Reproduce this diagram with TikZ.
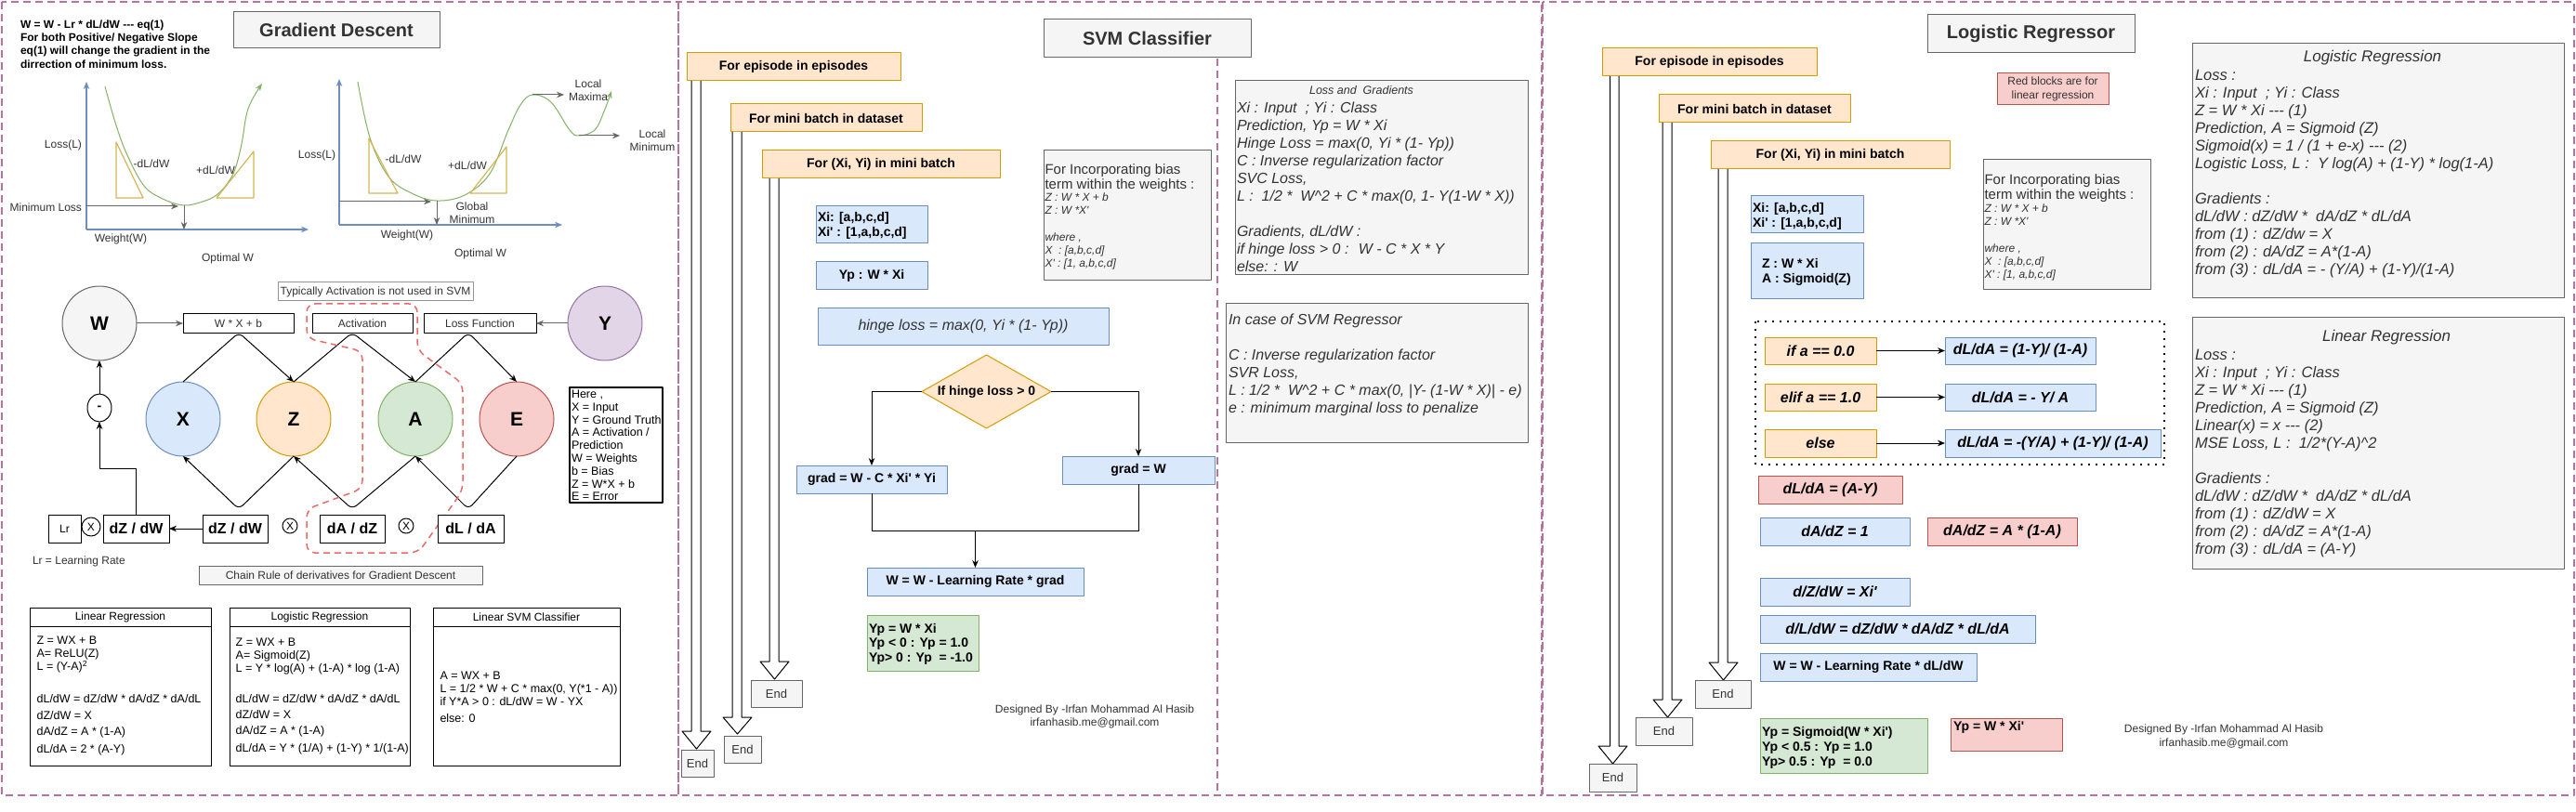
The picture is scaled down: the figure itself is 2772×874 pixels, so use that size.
\documentclass[tikz,border=0pt]{standalone}
\usepackage{fontspec}
\setmainfont{Liberation Sans}[Ligatures=TeXOff]
\usetikzlibrary{arrows.meta,shapes.geometric,calc}
\definecolor{pinkd}{HTML}{B5739D}
\definecolor{redd}{HTML}{EA6B66}
\definecolor{oF}{HTML}{FFE6CC}\definecolor{oS}{HTML}{D79B00}
\definecolor{bF}{HTML}{DAE8FC}\definecolor{bS}{HTML}{6C8EBF}
\definecolor{gF}{HTML}{D5E8D4}\definecolor{gS}{HTML}{82B366}
\definecolor{rF}{HTML}{F8CECC}\definecolor{rS}{HTML}{B85450}
\definecolor{grF}{HTML}{F5F5F5}\definecolor{grS}{HTML}{666666}
\definecolor{pF}{HTML}{E1D5E7}\definecolor{pS}{HTML}{9673A6}
\definecolor{yS}{HTML}{D6B656}
\definecolor{tt}{HTML}{333333}
\newcommand\fs[2]{\fontsize{#1}{#2}\selectfont}
\newcommand\st{\rule{0pt}{0.8em}}
\newcommand\q{\textquotesingle}
\newcommand\bx[6]{\node[#6, minimum width={(#4)-(#2)}, minimum height={(#5)-(#3)}, inner sep=0pt] (#1) at ({((#2)+(#4))/2},{((#3)+(#5))/2})}
\newcommand\blk[7]{\draw[line width=1pt, fill=white] (#1,#3) -- (#1,#4) -- (#5,#4) -- ({((#5)+(#6))/2},#7) -- (#6,#4) -- (#2,#4) -- (#2,#3);}
\begin{document}
\begin{tikzpicture}[x=1pt,y=-1pt, line join=round,
  every node/.style={inner sep=0pt,outer sep=0pt},
  gbox/.style={draw=grS,fill=grF,line width=1pt},
  obox/.style={draw=oS,fill=oF,line width=1pt},
  bbox/.style={draw=bS,fill=bF,line width=1pt},
  gnbox/.style={draw=gS,fill=gF,line width=1pt},
  rbox/.style={draw=rS,fill=rF,line width=1pt},
  wbox/.style={draw=black,fill=white,line width=1pt},
  arr/.style={line width=1pt,-{Stealth[length=8pt,width=6.5pt]}},
  garr/.style={draw=grS,line width=1pt,-{Stealth[length=8pt,width=6.5pt]}},
  axarr/.style={draw=bS,line width=1.2pt,-{Stealth[length=8pt,width=6.5pt]}},
  curve/.style={draw=gS,line width=1pt},
  tri/.style={draw=yS,line width=1.2pt},
  pframe/.style={draw=pinkd,line width=1.3pt,dash pattern=on 8pt off 5pt},
  lbl/.style={text=tt,font=\fs{12}{14}},
  rc/.style={rounded corners=6pt},
  endbox/.style={gbox,text=tt,font=\fs{13}{15}},
  circ/.style={circle,minimum size=80pt,line width=1pt,font=\fs{21}{24}\bfseries}]
\fill[white] (0,0) rectangle (2772,874);
\useasboundingbox (0,0) rectangle (2772,874);
% ---------- frames
\draw[pframe] (2,2) rectangle (730,856);
\draw[pframe] (730,2) rectangle (1659,856);
\draw[pframe] (1660,2) rectangle (2770,856);
\draw[pframe] (1310,63) -- (1310,856);

% ================= PANEL 1 =================
\bx{gdt}{251}{13}{473}{52}{gbox}{\fs{20}{24}\bfseries\color{tt}Gradient Descent};
\node[anchor=north west,align=left,font=\fs{12}{14.3}\bfseries] (gdnote) at (22,20.7) {\st W = W - Lr * dL/dW --- eq(1)\\For both Positive/ Negative Slope\\eq(1) will change the gradient in the\\dirrection of minimum loss.};
% graph 1
\draw[axarr] (93,247) -- (93,88);
\draw[axarr] (93,247) -- (332,247);
\draw[curve,-{Stealth[length=8pt,width=6pt]}] plot[smooth,tension=0.6] coordinates {(113,93) (125,135) (137,167) (155,200) (175,214) (198,221) (218,217) (233,210) (245,197) (253,182) (260,155) (267,117) (282,90)};
\draw[tri] (125,153) -- (125,213) -- (154,213) -- cycle;
\draw[tri] (273,163) -- (273,213) -- (233,213) -- cycle;
\draw[garr] (93,222) -- (192,222);
\draw[garr] (198,221) -- (198,247);
\node[lbl,anchor=east] at (88,156) {Loss(L)};
\node[lbl,anchor=east] at (88,223) {Minimum Loss};
\node[lbl] at (130,257) {Weight(W)};
\node[lbl] at (245,278) {Optimal W};
\node[lbl] at (163,176) {-dL/dW};
\node[lbl] at (232,183) {+dL/dW};
% graph 2
\draw[axarr] (365,242) -- (365,85);
\draw[axarr] (365,242) -- (605,242);
\draw[curve,-{Stealth[length=8pt,width=6pt]}] plot[smooth,tension=0.6] coordinates {(385,88) (398,148) (418,190) (443,208) (470,216) (500,210) (527,187) (547,140) (560,113) (573,102) (593,110) (613,140) (623,146) (640,140) (650,120) (658,98)};
\draw[tri] (397,149) -- (397,208) -- (428,208) -- cycle;
\draw[tri] (545,158) -- (545,208) -- (506,208) -- cycle;
\draw[garr] (365,217) -- (464,217);
\draw[garr] (470,216) -- (470,242);
\draw[garr] (573,102) -- (607,102);
\draw[garr] (623,146) -- (667,146);
\node[lbl] at (341,167) {Loss(L)};
\node[lbl] at (434,171) {-dL/dW};
\node[lbl] at (503,178) {+dL/dW};
\node[lbl,align=center] at (508,229) {Global\\Minimum};
\node[lbl] at (438,253) {Weight(W)};
\node[lbl] at (517,273) {Optimal W};
\node[lbl,align=center] at (633,97) {Local\\Maxima};
\node[lbl,align=center] at (702,151) {Local\\Minimum};

% network
\node[circ,draw=grS,fill=grF] (W) at (107,348) {W};
\node[circ,draw=bS,fill=bF] (X) at (197,451) {X};
\node[circ,draw=oS,fill=oF] (Z) at (316,451) {Z};
\node[circ,draw=gS,fill=gF] (A) at (447,451) {A};
\node[circ,draw=rS,fill=rF] (E) at (556,451) {E};
\node[circ,draw=pS,fill=pF] (Y) at (651,348) {Y};
\bx{wxb}{197}{338}{316}{358}{wbox,text=tt,font=\fs{12}{14}}{W * X + b};
\bx{act}{336}{338}{444}{358}{wbox,text=tt,font=\fs{12}{14}}{Activation};
\bx{lossf}{456}{338}{577}{358}{wbox,text=tt,font=\fs{12}{14}}{Loss Function};
\bx{typ}{299}{304}{509}{324}{draw=grS!70,fill=white,line width=1pt,text=tt,font=\fs{12}{14}}{Typically Activation is not used in SVM};
\draw[arr,draw=grS] (W.east) -- (wxb.west);
\draw[arr,draw=grS] (Y.west) -- (lossf.east);
\coordinate (p1) at (257,358); \coordinate (p2) at (379,358); \coordinate (p3) at (504,358);
\coordinate (q1) at (257,548); \coordinate (q2) at (379,548); \coordinate (q3) at (504,548);
\draw[arr,rc] (X.north) -- (p1) -- (Z.north);
\draw[arr,rc] (Z.north) -- (p2) -- (A.north);
\draw[arr,rc] (A.north) -- (p3) -- (E.north);
\draw[arr,rc] (Z.south) -- (q1) -- (X.south);
\draw[arr,rc] (A.south) -- (q2) -- (Z.south);
\draw[arr,rc] (E.south) -- (q3) -- (A.south);
% red dashed region
\draw[redd,line width=1.5pt,dash pattern=on 7pt off 5pt,rounded corners=9pt] (330,327) -- (449,327) -- (449,377) -- (498,413) -- (498,528) -- (450,595) -- (330,595) -- (330,548) -- (390,526) -- (390,378) -- (330,364) -- cycle;
% bottom row
\bx{lr}{52}{554}{87}{584}{wbox,font=\fs{12}{14}}{Lr};
\node[circle,draw,line width=1pt,minimum size=20pt,font=\fs{12}{14}] (m0) at (98,567) {X};
\bx{dzdw1}{111}{554}{182}{584}{wbox,font=\fs{16}{18}\bfseries}{dZ / dW};
\bx{dzdw2}{218}{554}{288}{584}{wbox,font=\fs{16}{18}\bfseries}{dZ / dW};
\node[circle,draw,line width=1pt,minimum size=16pt,font=\fs{12}{14}] (m1) at (312,566) {X};
\bx{dadz}{344}{554}{414}{584}{wbox,font=\fs{16}{18}\bfseries}{dA / dZ};
\node[circle,draw,line width=1pt,minimum size=16pt,font=\fs{12}{14}] (m2) at (437,566) {X};
\bx{dlda}{471}{554}{542}{584}{wbox,font=\fs{16}{18}\bfseries}{dL / dA};
\node[ellipse,draw,line width=1pt,minimum width=26pt,minimum height=30pt,font=\fs{14}{16}\bfseries] (minus) at (107,439) {-};
\draw[arr] (dzdw2.west) -- (dzdw1.east);
\draw[arr] (dzdw1.north) -- ++(0,-50) -| (minus.south);
\draw[arr] (minus.north) -- (W.south);
\node[lbl,anchor=west] at (35,604) {Lr = Learning Rate};
\bx{chain}{214}{609}{519}{629}{gbox,text=tt,font=\fs{12}{14}}{Chain Rule of derivatives for Gradient Descent};
% legend
\bx{legend}{613}{417}{713}{541}{draw=black,fill=white,line width=1.5pt}{};
\node[anchor=north west,align=left,font=\fs{12.5}{13.8}] at (615,418.5) {\st Here ,\\X = Input\\Y = Ground Truth\\A = Activation /\\Prediction\\W = Weights\\b = Bias\\Z = W*X + b\\E = Error};
% tables
\bx{tlin}{32}{654}{227}{824}{wbox}{};
\draw[line width=1pt] (32,674) -- (227,674);
\node[font=\fs{12}{14}] at (129.5,664) {Linear Regression};
\node[anchor=north west,align=left,font=\fs{12.5}{14}] at (39.6,683.5) {\st Z = WX + B\\A= ReLU(Z)\\L = (Y-A)\textsuperscript{2}};
\node[anchor=west,font=\fs{12.5}{14}] at (39.6,752) {dL/dW = dZ/dW * dA/dZ * dA/dL};
\node[anchor=west,font=\fs{12.5}{14}] at (39.6,770) {dZ/dW = X};
\node[anchor=west,font=\fs{12.5}{14}] at (39.6,788) {dA/dZ = A * (1-A)};
\node[anchor=west,font=\fs{12.5}{14}] at (39.6,807) {dL/dA = 2 * (A-Y)};
\bx{tlog}{247}{654}{441}{824}{wbox}{};
\draw[line width=1pt] (247,674) -- (441,674);
\node[font=\fs{12}{14}] at (344,664) {Logistic Regression};
\node[anchor=north west,align=left,font=\fs{12.5}{14}] at (253.7,685.5) {\st Z = WX + B\\A= Sigmoid(Z)\\L = Y * log(A) + (1-A) * log (1-A)};
\node[anchor=west,font=\fs{12.5}{14}] at (253.7,752) {dL/dW = dZ/dW * dA/dZ * dA/dL};
\node[anchor=west,font=\fs{12.5}{14}] at (253.7,769) {dZ/dW = X};
\node[anchor=west,font=\fs{12.5}{14}] at (253.7,787) {dA/dZ = A * (1-A)};
\node[anchor=west,font=\fs{12.5}{14}] at (253.7,806) {dL/dA = Y * (1/A) + (1-Y) * 1/(1-A)};
\bx{tsvm}{466}{654}{667}{824}{wbox}{};
\draw[line width=1pt] (466,674) -- (667,674);
\node[font=\fs{12}{14}] at (566.5,664) {Linear SVM Classifier};
\node[anchor=north west,align=left,font=\fs{12.5}{14}] at (473.5,721.5) {\st A = WX + B\\L = 1/2 * W + C * max(0, Y(*1 - A))\\if Y*A > 0 : dL/dW = W - YX};
\node[anchor=west,font=\fs{12.5}{14}] at (473.5,773) {else: 0};

% ================= PANEL 2 =================
\bx{svmt}{1123}{21}{1346}{62}{gbox}{\fs{20}{24}\bfseries\color{tt}SVM Classifier};
\bx{sep}{739}{57}{969}{87}{obox,font=\fs{14}{16}\bfseries}{For episode in episodes};
\bx{smb}{786}{112}{992}{142}{obox,font=\fs{14}{16}\bfseries}{For mini batch in dataset};
\bx{sxy}{820}{162}{1076}{192}{obox,font=\fs{14}{16}\bfseries}{For (Xi, Yi) in mini batch};
\blk{744}{754}{87}{787}{734}{765}{806}
\blk{788}{798}{142}{772}{778}{809}{790}
\blk{828}{838}{192}{712}{818}{849}{731}
\bx{send1}{733}{807}{768}{836}{endbox}{End};
\bx{send2}{779}{792}{819}{821}{endbox}{End};
\bx{send3}{808}{732}{863}{761}{endbox}{End};
\bx{sxi}{878}{222}{998}{262}{bbox}{};
\node[anchor=north west,align=left,font=\fs{14}{16}\bfseries] at (880,227.8) {\st Xi: [a,b,c,d]\\Xi\q{} : [1,a,b,c,d]};
\bx{syp}{878}{282}{998}{312}{bbox,font=\fs{14}{16}\bfseries}{Yp : W * Xi};
\bx{shinge}{880}{332}{1193}{371}{bbox,font=\fs{16}{18}\itshape,text=tt}{hinge loss = max(0, Yi * (1- Yp))};
\node[diamond,obox,aspect=1.76,minimum width=139pt,minimum height=79pt,inner sep=0pt,font=\fs{14}{16}\bfseries] (sdia) at (1061.5,421.5) {If hinge loss > 0};
\bx{sgl}{857}{501}{1019}{531}{bbox,font=\fs{14}{16}\bfseries}{grad = W - C * Xi\q{} * Yi};
\bx{sgr}{1143}{491}{1307}{521}{bbox,font=\fs{14}{16}\bfseries}{grad = W};
\bx{supd}{933}{611}{1166}{641}{bbox,font=\fs{14}{16}\bfseries}{W = W - Learning Rate * grad};
\draw[arr] (sdia.west) -| (sgl.north);
\draw[arr] (sdia.east) -| (sgr.north);
\draw[line width=1pt] (sgl.south) -- ++(0,40) -| (sgr.south);
\coordinate (smerge) at (1049.5,571);
\draw[arr] (smerge) -- (supd.north);
\bx{sgreen}{933}{662}{1053}{722}{gnbox}{};
\node[anchor=north west,align=left,font=\fs{14}{15.7}\bfseries] at (935,669.8) {\st Yp = W * Xi\\Yp < 0 : Yp = 1.0\\Yp> 0 : Yp \ = -1.0};
\node[align=center,font=\fs{12}{14.5},text=tt] at (1178,771.5) {Designed By -Irfan Mohammad Al Hasib\\irfanhasib.me@gmail.com};
% bias box
\bx{sbias}{1123}{162}{1303}{302}{gbox}{};
\node[anchor=north west,align=left,font=\fs{15}{16},text=tt] at (1124.5,175.4) {\st For Incorporating bias\\term within the weights :};
\node[anchor=north west,align=left,font=\fs{12}{14.3}\itshape,text=tt] at (1124.5,206.7) {\st Z : W * X + b\\Z : W *X\q\\[14.3pt]where ,\\X \ : [a,b,c,d]\\X\q{} : [1, a,b,c,d]};
% loss & gradients
\bx{slg}{1329}{87}{1644}{296}{gbox}{};
\node[font=\fs{12.5}{15}\itshape,text=tt] at (1465,97) {Loss and \ Gradients};
\node[anchor=north west,align=left,font=\fs{16}{19}\itshape,text=tt] at (1331,109) {\st Xi : Input \ ; Yi : Class\\Prediction, Yp = W * Xi\\Hinge Loss = max(0, Yi * (1- Yp))\\C : Inverse regularization factor\\SVC Loss,\\L : \ 1/2 * \ W\textasciicircum 2 + C * max(0, 1- Y(1-W * X))\\[19pt]Gradients, dL/dW :\\if hinge loss > 0 : \ W - C * X * Y\\else: : W};
\bx{ssvr}{1319}{327}{1644}{476}{gbox}{};
\node[anchor=north west,align=left,font=\fs{16}{19}\itshape,text=tt] at (1322,337) {\st In case of SVM Regressor\\[19pt]C : Inverse regularization factor\\SVR Loss,\\L : 1/2 * \ W\textasciicircum 2 + C * max(0, |Y- (1-W * X)| - e)\\e : minimum marginal loss to penalize};

% ================= PANEL 3 =================
\bx{lt}{2074}{16}{2297}{57}{gbox}{\fs{20}{24}\bfseries\color{tt}Logistic Regressor};
\bx{lep}{1724}{52}{1955}{82}{obox,font=\fs{14}{16}\bfseries}{For episode in episodes};
\bx{lmb}{1785}{102}{1991}{132}{obox,font=\fs{14}{16}\bfseries}{For mini batch in dataset};
\bx{lxy}{1841}{152}{2098}{182}{obox,font=\fs{14}{16}\bfseries}{For (Xi, Yi) in mini batch};
\blk{1732.5}{1742}{82}{803}{1720}{1751}{822}
\blk{1789}{1799}{132}{753}{1779}{1810}{772}
\blk{1849}{1859}{182}{713}{1839}{1870}{732}
\bx{lend1}{1710}{822}{1761}{852}{endbox}{End};
\bx{lend2}{1760}{772}{1821}{802}{endbox}{End};
\bx{lend3}{1824}{732}{1884}{762}{endbox}{End};
\bx{lred}{2149}{79}{2269}{113}{rbox,align=center,text=tt,font=\fs{12}{14.3}}{Red blocks are for\\linear regression};
\bx{lxi}{1884}{211}{2005}{251}{bbox}{};
\node[anchor=north west,align=left,font=\fs{14}{16}\bfseries] at (1886,217.8) {\st Xi: [a,b,c,d]\\Xi\q{} : [1,a,b,c,d]};
\bx{lz}{1884}{262}{2005}{322}{bbox}{};
\node[anchor=north west,align=left,font=\fs{14}{16}\bfseries] at (1896,277.8) {\st Z : W * Xi\\A : Sigmoid(Z)};
\bx{lbias}{2134}{172}{2314}{312}{gbox}{};
\node[anchor=north west,align=left,font=\fs{15}{16},text=tt] at (2135.5,186.4) {\st For Incorporating bias\\term within the weights :};
\node[anchor=north west,align=left,font=\fs{12}{14.3}\itshape,text=tt] at (2135.5,218.7) {\st Z : W * X + b\\Z : W *X\q\\[14.3pt]where ,\\X \ : [a,b,c,d]\\X\q{} : [1, a,b,c,d]};
\draw[line width=2pt,dash pattern=on 2pt off 6pt] (1889,346) rectangle (2329,500);
\bx{if1}{1899}{363}{2019}{392}{obox,font=\fs{16}{18}\bfseries\itshape}{if a == 0.0};
\bx{if2}{1899}{413}{2019}{442}{obox,font=\fs{16}{18}\bfseries\itshape}{elif a == 1.0};
\bx{if3}{1899}{462}{2019}{492}{obox,font=\fs{16}{18}\bfseries\itshape}{else};
\bx{r1}{2093}{363}{2255}{392}{bbox,font=\fs{16}{18}\bfseries\itshape}{dL/dA = (1-Y)/ (1-A)};
\bx{r2}{2093}{413}{2255}{442}{bbox,font=\fs{16}{18}\bfseries\itshape}{dL/dA = - Y/ A};
\bx{r3}{2093}{462}{2325}{492}{bbox,font=\fs{16}{18}\bfseries\itshape}{dL/dA = -(Y/A) + (1-Y)/ (1-A)};
\draw[arr] (if1.east) -- (r1.west);
\draw[arr] (if2.east) -- (r2.west);
\draw[arr] (if3.east) -- (r3.west);
\bx{lred1}{1892}{512}{2047}{542}{rbox,font=\fs{16}{18}\bfseries\itshape}{dL/dA = (A-Y)};
\bx{ldz1}{1894}{557}{2055}{587}{bbox,font=\fs{16}{18}\bfseries\itshape}{dA/dZ = 1};
\bx{lred2}{2074}{557}{2235}{587}{rbox,font=\fs{16}{18}\bfseries\itshape}{dA/dZ = A * (1-A)};
\bx{ldzw}{1894}{622}{2055}{652}{bbox,font=\fs{16}{18}\bfseries\itshape}{d/Z/dW = Xi\q};
\bx{ldlw}{1894}{662}{2190}{692}{bbox,font=\fs{16}{18}\bfseries\itshape}{d/L/dW = dZ/dW * dA/dZ * dL/dA};
\bx{lupd}{1894}{703}{2127}{733}{bbox,font=\fs{14}{16}\bfseries}{W = W - Learning Rate * dL/dW};
\bx{lgreen}{1894}{773}{2074}{832}{gnbox}{};
\node[anchor=north west,align=left,font=\fs{14}{16}\bfseries] at (1896,780.8) {\st Yp = Sigmoid(W * Xi\q)\\Yp < 0.5 : Yp = 1.0\\Yp> 0.5 : Yp \ = 0.0};
\bx{lredyp}{2099}{773}{2219}{808}{rbox}{};
\node[anchor=west,font=\fs{14}{16}\bfseries] at (2102,783) {Yp = W * Xi\q};
\node[align=center,font=\fs{12}{14.5},text=tt] at (2393,793) {Designed By -Irfan Mohammad Al Hasib\\irfanhasib.me@gmail.com};
% right boxes
\bx{llog}{2359}{47}{2759}{321}{gbox}{};
\node[font=\fs{17}{19}\itshape,text=tt] at (2553,62) {Logistic Regression};
\node[anchor=north west,align=left,font=\fs{16.5}{19}\itshape,text=tt] at (2362,73.7) {\st Loss :\\Xi : Input \ ; Yi : Class\\Z = W * Xi --- (1)\\Prediction, A = Sigmoid (Z)\\Sigmoid(x) = 1 / (1 + e-x) --- (2)\\Logistic Loss, L : \ Y log(A) + (1-Y) * log(1-A)\\[19pt]Gradients :\\dL/dW : dZ/dW * \ dA/dZ * dL/dA\\from (1) : dZ/dw = X\\from (2) : dA/dZ = A*(1-A)\\from (3) : dL/dA = - (Y/A) + (1-Y)/(1-A)};
\bx{llin}{2359}{342}{2759}{612}{gbox}{};
\node[font=\fs{17}{19}\itshape,text=tt] at (2568,363) {Linear Regression};
\node[anchor=north west,align=left,font=\fs{16.5}{19}\itshape,text=tt] at (2362,374.7) {\st Loss :\\Xi : Input \ ; Yi : Class\\Z = W * Xi --- (1)\\Prediction, A = Sigmoid (Z)\\Linear(x) = x --- (2)\\MSE Loss, L : \ 1/2*(Y-A)\textasciicircum 2\\[19pt]Gradients :\\dL/dW : dZ/dW * \ dA/dZ * dL/dA\\from (1) : dZ/dW = X\\from (2) : dA/dZ = A*(1-A)\\from (3) : dL/dA = (A-Y)};
\end{tikzpicture}
\end{document}
